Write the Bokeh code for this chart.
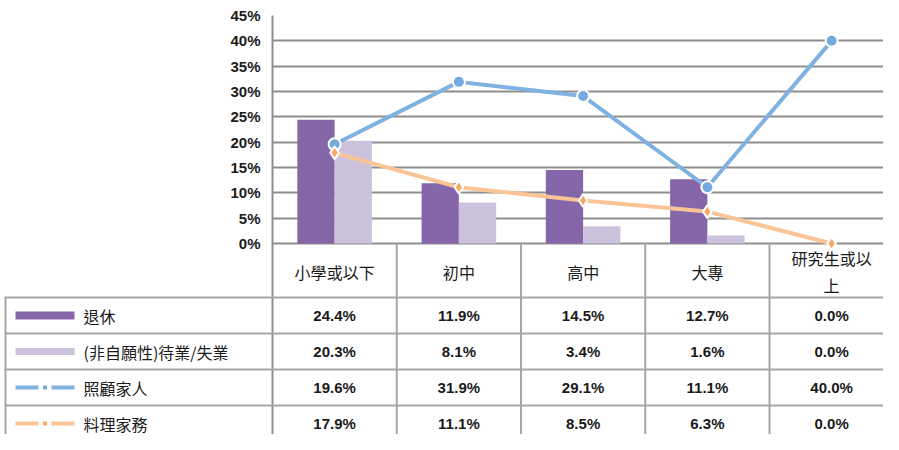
from bokeh.plotting import figure
from bokeh.models import Range1d, FixedTicker, PrintfTickFormatter, ColumnDataSource
from bokeh.transform import dodge
from bokeh.core.properties import value
from bokeh.embed import file_html
from bokeh.resources import INLINE

# ---------------- data ----------------
categories = ["小學或以下", "初中", "高中", "大專", "研究生或以上"]
category_labels = ["小學或以下", "初中", "高中", "大專", "研究生或以\n上"]
series_names = ["退休", "(非自願性)待業/失業", "照顧家人", "料理家務"]
retired = [24.4, 11.9, 14.5, 12.7, 0.0]
unemployed = [20.3, 8.1, 3.4, 1.6, 0.0]
family_care = [19.6, 31.9, 29.1, 11.1, 40.0]
housework = [17.9, 11.1, 8.5, 6.3, 0.0]
y_ticks = [0, 5, 10, 15, 20, 25, 30, 35, 40, 45]

# ---------------- styles / layout ----------------
C_RET = "#8566a8"
C_UNE = "#cdc2dc"
C_FAM = "#7fb1e1"
C_FAM_M = "#76aadf"
C_HOU = "#fac596"
C_HOU_M = "#f6a866"
GRID = "#8e8e8e"
TLINE = "#a6a6a6"
TXT = "#1a1a1a"
CJK = "Noto Sans CJK TC"
LAT = "Liberation Sans"

W, H = 883, 434
COL_W = 124.25            # px per category
PX_PER = 228.0 / 45.0     # px per percent
FRAME_LEFT = 272          # canvas x of plot-area left edge
FRAME_TOP = 15            # canvas y of 45%


# helpers converting reference-picture pixels into data units (layout only)
def xr(ref_px):
    return -0.5 + (ref_px - 280) / COL_W


def yr(ref_px):
    return (251 - ref_px) / PX_PER


idx = list(range(len(categories)))
src = ColumnDataSource(dict(idx=idx, cat=categories, retired=retired,
                            unemployed=unemployed, family=family_care,
                            house=housework))

x_end = xr(W + 8)
y_bot = yr(H + 8)

p = figure(width=W, height=H, x_range=Range1d(-0.5, x_end),
           y_range=Range1d(y_bot, 45), x_axis_type=None,
           output_backend="svg", toolbar_location=None,
           min_border_left=FRAME_LEFT, min_border_right=0,
           min_border_top=FRAME_TOP, min_border_bottom=0,
           outline_line_color=None,
           background_fill_color="white", border_fill_color="white")

# ---------------- chart ----------------
p.vbar(x=dodge("idx", -0.15), top="retired", width=0.3, source=src,
       fill_color=C_RET, line_color=None)
p.vbar(x=dodge("idx", 0.15), top="unemployed", width=0.3, source=src,
       fill_color=C_UNE, line_color=None)

p.line(x="idx", y="family", source=src, line_color=C_FAM, line_width=4)
p.line(x="idx", y="house", source=src, line_color=C_HOU, line_width=4)
p.scatter(x="idx", y="family", source=src, marker="circle", size=12,
          fill_color=C_FAM_M, line_color="white", line_width=2)
p.scatter(x="idx", y="house", source=src, marker="diamond", size=13,
          fill_color=C_HOU_M, line_color="white", line_width=2)

yax = p.yaxis[0]
yax.ticker = FixedTicker(ticks=y_ticks)
yax.formatter = PrintfTickFormatter(format="%d%%")
yax.major_tick_out = 0
yax.major_tick_in = 0
yax.minor_tick_out = 0
yax.minor_tick_in = 0
yax.axis_line_color = GRID
yax.axis_line_width = 2
yax.major_label_standoff = 12
yax.major_label_text_font = LAT
yax.major_label_text_font_style = "bold"
yax.major_label_text_font_size = "15px"
yax.major_label_text_color = TXT

p.ygrid.ticker = FixedTicker(ticks=y_ticks)
p.ygrid.grid_line_color = GRID
p.ygrid.grid_line_width = 2

# ---------------- data table ----------------
n_rows = len(series_names)
row_lines_ref = [305 + 36 * r for r in range(n_rows + 1)]
row_centers = [yr(305 + 36 * r + 18) for r in range(n_rows)]
x_left = xr(12)

# header row: category names
p.text(x=idx, y=[yr(279)] * len(idx), text=category_labels,
       text_align="center", text_baseline="middle", text_line_height=1.15,
       text_font=value(CJK), text_font_size="16px", text_color=TXT)

# grid of the table
hy = [yr(v) for v in row_lines_ref]
p.segment(x0=[x_left] * len(hy), x1=[x_end] * len(hy), y0=hy, y1=hy,
          line_color=TLINE, line_width=2, level="overlay")
vx = [i + 0.5 for i in idx[:-1]]
p.segment(x0=vx, x1=vx, y0=[0] * len(vx), y1=[y_bot] * len(vx),
          line_color=TLINE, line_width=2)
p.segment(x0=[xr(13)], x1=[xr(13)], y0=[yr(305)], y1=[y_bot],
          line_color=TLINE, line_width=2, level="overlay")

# values
all_series = [retired, unemployed, family_care, housework]
tx, ty, tt = [], [], []
for r, vals in enumerate(all_series):
    for i, v in enumerate(vals):
        tx.append(i)
        ty.append(row_centers[r])
        tt.append(f"{v:.1f}%")
p.text(x=tx, y=ty, text=tt, text_align="center", text_baseline="middle",
       text_font=value(LAT), text_font_style="bold", text_font_size="15px",
       text_color=TXT)

# legend keys in the first column
k0, k1 = xr(23), xr(82)
ka, kb = xr(46), xr(59)          # gap around the marker dot
kd0, kd1 = xr(50.5), xr(54.5)    # marker dot
p.segment(x0=[k0], x1=[k1], y0=[row_centers[0]], y1=[row_centers[0]],
          line_color=C_RET, line_width=8, line_cap="butt", level="overlay")
p.segment(x0=[k0], x1=[k1], y0=[row_centers[1]], y1=[row_centers[1]],
          line_color=C_UNE, line_width=7, line_cap="butt", level="overlay")
ly = row_centers[2:]
lc = [C_FAM, C_HOU]
mc = [C_FAM_M, C_HOU_M]
p.segment(x0=[k0, k0], x1=[ka, ka], y0=ly, y1=ly,
          line_color=lc, line_width=4, line_cap="butt", level="overlay")
p.segment(x0=[kb, kb], x1=[k1, k1], y0=ly, y1=ly,
          line_color=lc, line_width=4, line_cap="butt", level="overlay")
p.segment(x0=[kd0, kd0], x1=[kd1, kd1], y0=ly, y1=ly,
          line_color=mc, line_width=4, line_cap="butt", level="overlay")
p.text(x=[xr(91)] * n_rows, y=row_centers, text=series_names,
       text_align="left", text_baseline="middle",
       text_font=value(CJK), text_font_size="16px", text_color=TXT,
       level="overlay")

open("out.html", "w").write(file_html(p, INLINE))
